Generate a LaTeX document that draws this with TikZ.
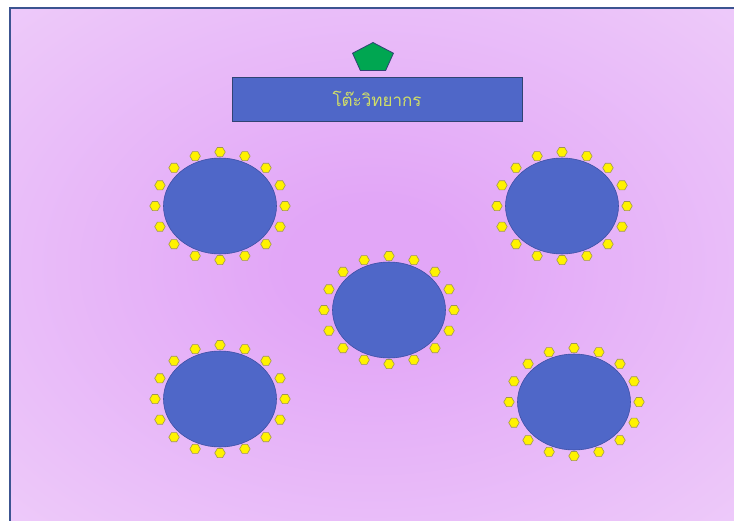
\documentclass[tikz,border=0pt]{standalone}
\usepackage{fontspec}
\newfontfamily\thaifont[Script=Thai]{Loma}
\usepackage{tikz}
\usetikzlibrary{shapes.geometric, positioning, calc}
\definecolor{hallmid}{RGB}{226,166,247}
\definecolor{halledge}{RGB}{243,220,251}
\definecolor{framecol}{RGB}{60,84,145}
\definecolor{tablefill}{RGB}{79,103,200}
\definecolor{tableline}{RGB}{62,80,165}
\definecolor{chairline}{RGB}{160,150,80}
\definecolor{podiumfill}{RGB}{0,166,81}
\definecolor{labeltext}{RGB}{208,222,104}
\pgfdeclareradialshading{hall}{\pgfpoint{0bp}{0bp}}{%
  color(0bp)=(hallmid); color(6bp)=(hallmid); color(50bp)=(halledge); color(60bp)=(halledge)}
\tikzset{
  roundtable/.style = {ellipse, draw=tableline, line width=0.6pt, fill=tablefill,
                       minimum width=113pt, minimum height=96pt, inner sep=0pt},
  chair/.style      = {regular polygon, regular polygon sides=6, draw=chairline,
                       line width=0.6pt, fill=yellow, minimum size=10.5pt, inner sep=0pt},
  headtable/.style  = {rectangle, draw=framecol!80!black, line width=0.8pt, fill=tablefill,
                       minimum width=290pt, minimum height=44pt, inner sep=0pt,
                       font=\thaifont\fontsize{17}{20}\selectfont, text=labeltext},
  podium/.style     = {regular polygon, regular polygon sides=5, draw=framecol!80!black,
                       line width=0.8pt, fill=podiumfill, minimum size=43pt, inner sep=0pt},
}
\begin{document}
\begin{tikzpicture}[x=1pt, y=-1pt]
  \useasboundingbox (0,0) rectangle (734,520);

  % hall floor
  \shade[shading=hall] (10,8) rectangle (738,524);
  \draw[framecol, line width=1.6pt] (10,524) -- (10,8) -- (738,8);

  % speaker table
  \node[headtable] (speaker) at (377,99) {โต๊ะวิทยากร};
  \begin{scope}[shift={(373,58)}, yscale=0.72]
    \node[podium, transform shape] (podium) at (0,0) {};
  \end{scope}

  % guest tables
  \node[roundtable] (tl)  at (220,206) {};
  \node[roundtable] (tr)  at (562,206) {};
  \node[roundtable] (mid) at (389,310) {};
  \node[roundtable] (bl)  at (220,399) {};
  \node[roundtable] (br)  at (574,402) {};

  % chairs round each table
  \foreach \t in {tl,tr,mid,bl,br}
    \foreach \k in {0,...,15}
      \node[chair] (\t-\k) at ($(\t)+(\k*22.5:65 and 54)$) {};
\end{tikzpicture}
\end{document}
